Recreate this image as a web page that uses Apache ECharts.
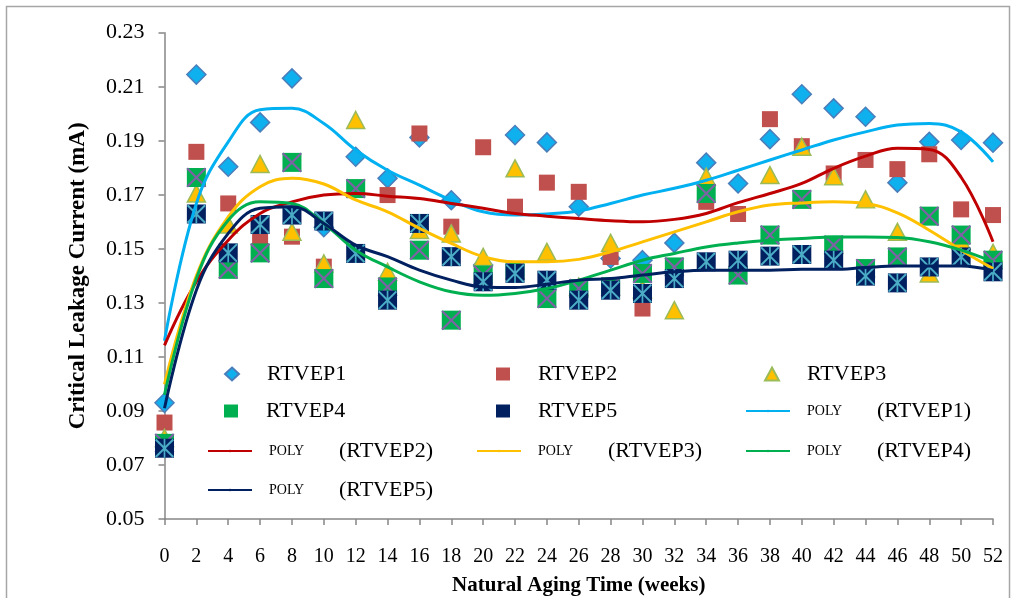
<!DOCTYPE html>
<html>
<head>
<meta charset="utf-8">
<script src="https://cdn.jsdelivr.net/npm/echarts@6/dist/echarts.min.js"></script>
<style>
  html, body { margin: 0; padding: 0; background: #ffffff; }
  #chart { width: 1014px; height: 598px; }
</style>
</head>
<body>
<div id="chart"></div>
<script>
// Natural aging time (weeks) at which each sample was measured
const weeks = [0, 2, 4, 6, 8, 10, 12, 14, 16, 18, 20, 22, 24, 26, 28, 30, 32, 34, 36, 38, 40, 42, 44, 46, 48, 50, 52];

// Measured critical leakage current (mA)
const rtvep1 = [0.0930, 0.2145, 0.1804, 0.1968, 0.2131, 0.1580, 0.1841, 0.1761, 0.1912, 0.1680, 0.1440, 0.1921, 0.1894, 0.1656, 0.1464, 0.1458, 0.1522, 0.1819, 0.1742, 0.1906, 0.2072, 0.2020, 0.1989, 0.1745, 0.1896, 0.1903, 0.1893];
const rtvep2 = [0.0857, 0.1859, 0.1668, 0.1538, 0.1545, 0.1434, 0.1725, 0.1699, 0.1927, 0.1582, 0.1876, 0.1656, 0.1745, 0.1711, 0.1470, 0.1279, 0.1430, 0.1674, 0.1629, 0.1980, 0.1880, 0.1779, 0.1829, 0.1795, 0.1850, 0.1646, 0.1625];
const rtvep3 = [0.0800, 0.1705, 0.1590, 0.1814, 0.1563, 0.1446, 0.1977, 0.1415, 0.1570, 0.1557, 0.1470, 0.1798, 0.1489, 0.1360, 0.1522, 0.1350, 0.1273, 0.1767, 0.1455, 0.1773, 0.1878, 0.1769, 0.1683, 0.1563, 0.1409, 0.1530, 0.1485];
const rtvep4 = [0.0780, 0.1764, 0.1424, 0.1485, 0.1820, 0.1390, 0.1723, 0.1359, 0.1495, 0.1236, 0.1403, 0.1420, 0.1316, 0.1353, 0.1360, 0.1409, 0.1433, 0.1705, 0.1403, 0.1551, 0.1683, 0.1514, 0.1427, 0.1470, 0.1621, 0.1551, 0.1458];
const rtvep5 = [0.0762, 0.1629, 0.1485, 0.1590, 0.1625, 0.1603, 0.1483, 0.1310, 0.1594, 0.1471, 0.1378, 0.1409, 0.1384, 0.1310, 0.1347, 0.1335, 0.1390, 0.1452, 0.1458, 0.1473, 0.1479, 0.1458, 0.1399, 0.1374, 0.1433, 0.1470, 0.1415];

// Polynomial trend curves sampled at the same weeks
const poly1 = [0.1160, 0.1668, 0.1896, 0.2015, 0.2020, 0.1964, 0.1866, 0.1791, 0.1736, 0.1680, 0.1637, 0.1625, 0.1629, 0.1640, 0.1668, 0.1699, 0.1724, 0.1754, 0.1791, 0.1829, 0.1866, 0.1903, 0.1933, 0.1958, 0.1964, 0.1933, 0.1822];
const poly2 = [0.1143, 0.1378, 0.1532, 0.1631, 0.1674, 0.1699, 0.1705, 0.1695, 0.1686, 0.1668, 0.1650, 0.1631, 0.1621, 0.1612, 0.1604, 0.1600, 0.1609, 0.1631, 0.1671, 0.1705, 0.1742, 0.1798, 0.1843, 0.1872, 0.1868, 0.1765, 0.1526];
const poly3 = [0.0998, 0.1400, 0.1618, 0.1730, 0.1761, 0.1740, 0.1681, 0.1637, 0.1576, 0.1520, 0.1471, 0.1452, 0.1452, 0.1461, 0.1489, 0.1526, 0.1563, 0.1600, 0.1637, 0.1662, 0.1670, 0.1674, 0.1668, 0.1633, 0.1569, 0.1495, 0.1427];
const poly4 = [0.0960, 0.1390, 0.1606, 0.1674, 0.1668, 0.1594, 0.1495, 0.1433, 0.1378, 0.1341, 0.1328, 0.1335, 0.1353, 0.1384, 0.1421, 0.1458, 0.1483, 0.1507, 0.1522, 0.1532, 0.1538, 0.1544, 0.1544, 0.1542, 0.1526, 0.1495, 0.1452];
const poly5 = [0.0910, 0.1347, 0.1557, 0.1650, 0.1656, 0.1594, 0.1514, 0.1471, 0.1421, 0.1384, 0.1359, 0.1357, 0.1369, 0.1384, 0.1390, 0.1403, 0.1415, 0.1421, 0.1421, 0.1421, 0.1424, 0.1424, 0.1431, 0.1436, 0.1436, 0.1436, 0.1419];

// Y axis tick values
const yTicks = [0.05, 0.07, 0.09, 0.11, 0.13, 0.15, 0.17, 0.19, 0.21, 0.23];

const seriesNames = ['RTVEP1', 'RTVEP2', 'RTVEP3', 'RTVEP4', 'RTVEP5'];
const polyNames = ['POLY (RTVEP1)', 'POLY (RTVEP2)', 'POLY (RTVEP3)', 'POLY (RTVEP4)', 'POLY (RTVEP5)'];

const pairs = (ys) => weeks.map((w, i) => [w, ys[i]]);

const FONT = "'Liberation Serif', 'Times New Roman', serif";
const AXIS_GREY = '#868686';

// filled glyphs laid over the square markers
const CROSS_PATH = 'path://M0,1.5L1.5,0L10,8.5L18.5,0L20,1.5L11.5,10L20,18.5L18.5,20L10,11.5L1.5,20L0,18.5L8.5,10Z';
const STAR_PATH = CROSS_PATH + 'M9.1,0L10.9,0L10.9,20L9.1,20Z';

const chart = echarts.init(document.getElementById('chart'), null, { renderer: 'canvas' });

// scatter marks
const scatterSeries = [
  {
    name: seriesNames[0], type: 'scatter', data: pairs(rtvep1), symbol: 'diamond', symbolSize: 19, z: 3,
    itemStyle: { color: '#0FB0EE', borderColor: '#4A7EBB', borderWidth: 1.5, opacity: 1 }
  },
  {
    name: seriesNames[1], type: 'scatter', data: pairs(rtvep2), symbol: 'rect', symbolSize: 16, z: 3,
    itemStyle: { color: '#C0504D', opacity: 1 }
  },
  {
    name: seriesNames[2], type: 'scatter', data: pairs(rtvep3), symbol: 'triangle', symbolSize: [18, 17], z: 3,
    itemStyle: { color: '#FFC000', borderColor: '#9BBB59', borderWidth: 1.5, opacity: 1 }
  },
  {
    name: seriesNames[3], type: 'scatter', data: pairs(rtvep4), symbol: 'rect', symbolSize: 19, z: 3,
    itemStyle: { color: '#00B050', opacity: 1 }
  },
  {
    name: 'RTVEP4 cross', type: 'scatter', data: pairs(rtvep4), z: 3,
    symbol: CROSS_PATH, symbolSize: 20, silent: true,
    itemStyle: { color: '#7F62A6', opacity: 1 }
  },
  {
    name: seriesNames[4], type: 'scatter', data: pairs(rtvep5), symbol: 'rect', symbolSize: 19, z: 3,
    itemStyle: { color: '#002060', opacity: 1 }
  },
  {
    name: 'RTVEP5 star', type: 'scatter', data: pairs(rtvep5), z: 3,
    symbol: STAR_PATH, symbolSize: 19, silent: true,
    itemStyle: { color: '#4BACC6', opacity: 1 }
  }
];

// trend curves
const polyColors = ['#00B0F0', '#C00000', '#FFC000', '#00B050', '#002060'];
const polyData = [poly1, poly2, poly3, poly4, poly5];
const lineSeries = polyNames.map((n, i) => ({
  name: n, type: 'line', data: pairs(polyData[i]), smooth: 0.4, symbol: 'none', z: 4,
  lineStyle: { color: polyColors[i], width: 3 },
  itemStyle: { color: polyColors[i] }
}));

// legend layout: each entry placed on a 3-column grid inside the plot
const legendRows = [374, 411, 451, 490];
const legendEntries = [
  { name: 'RTVEP1', x: 224, row: 0, marker: true },
  { name: 'RTVEP2', x: 496, row: 0, marker: true },
  { name: 'RTVEP3', x: 764, row: 0, marker: true },
  { name: 'RTVEP4', x: 224, row: 1, marker: true },
  { name: 'RTVEP5', x: 496, row: 1, marker: true },
  { name: 'POLY (RTVEP1)', x: 745, row: 1, marker: false },
  { name: 'POLY (RTVEP2)', x: 207, row: 2, marker: false },
  { name: 'POLY (RTVEP3)', x: 476, row: 2, marker: false },
  { name: 'POLY (RTVEP4)', x: 745, row: 2, marker: false },
  { name: 'POLY (RTVEP5)', x: 207, row: 3, marker: false }
];

const legends = legendEntries.map(e => ({
  data: [e.name],
  left: e.x,
  top: legendRows[e.row] - 13,
  padding: 0,
  itemGap: 0,
  selectedMode: false,
  itemWidth: e.marker ? 14 : 44,
  itemHeight: e.marker ? 13 : 3,
  textStyle: {
    fontFamily: FONT, fontSize: 22, color: '#000', lineHeight: 26,
    rich: {
      g: { fontSize: 10, width: e.marker ? 23 : 12, lineHeight: 26 },
      p: { fontFamily: FONT, fontSize: 14, color: '#000', width: 70, lineHeight: 26 },
      n: { fontFamily: FONT, fontSize: 22, color: '#000', lineHeight: 26 }
    }
  },
  formatter: (name) => {
    if (name.indexOf('POLY') === 0) {
      return '{g| }{p|POLY}{n|' + name.slice(5) + '}';
    }
    return '{g| }{n|' + name + '}';
  }
}));

const option = {
  animation: false,
  backgroundColor: '#ffffff',
  grid: { left: 164.5, right: 21, top: 32.7, bottom: 79, containLabel: false, outerBoundsMode: 'none' },
  xAxis: {
    type: 'value', min: 0, max: 52, interval: 2,
    name: 'Natural Aging Time (weeks)', nameLocation: 'middle', nameGap: 56,
    nameTextStyle: { fontFamily: FONT, fontSize: 21, fontWeight: 'bold', color: '#000' },
    axisLine: { show: true, lineStyle: { color: AXIS_GREY, width: 1.5 } },
    axisTick: { show: true, inside: false, length: 6, lineStyle: { color: AXIS_GREY, width: 1.5 } },
    axisLabel: { fontFamily: FONT, fontSize: 20, color: '#000', margin: 28 },
    splitLine: { show: false }
  },
  yAxis: {
    type: 'value', min: 0.05, max: 0.23,
    name: 'Critical Leakage Current (mA)', nameLocation: 'middle', nameGap: 75, nameRotate: 90,
    nameTextStyle: { fontFamily: FONT, fontSize: 23, fontWeight: 'bold', color: '#000' },
    axisLine: { show: true, lineStyle: { color: AXIS_GREY, width: 1.5 } },
    axisTick: { show: true, inside: false, length: 6, customValues: yTicks, lineStyle: { color: AXIS_GREY, width: 1.5 } },
    axisLabel: {
      fontFamily: FONT, fontSize: 22, color: '#000', margin: 20, customValues: yTicks,
      formatter: (v) => v.toFixed(2)
    },
    splitLine: { show: false }
  },
  legend: legends,
  graphic: [
    {
      type: 'rect', silent: true, z: -10,
      shape: { x: 6.5, y: 6.5, width: 1003, height: 600 },
      style: { fill: 'none', stroke: '#A6A6A6', lineWidth: 1.5 }
    }
  ],
  series: scatterSeries.concat(lineSeries)
};

chart.setOption(option);
</script>
</body>
</html>
